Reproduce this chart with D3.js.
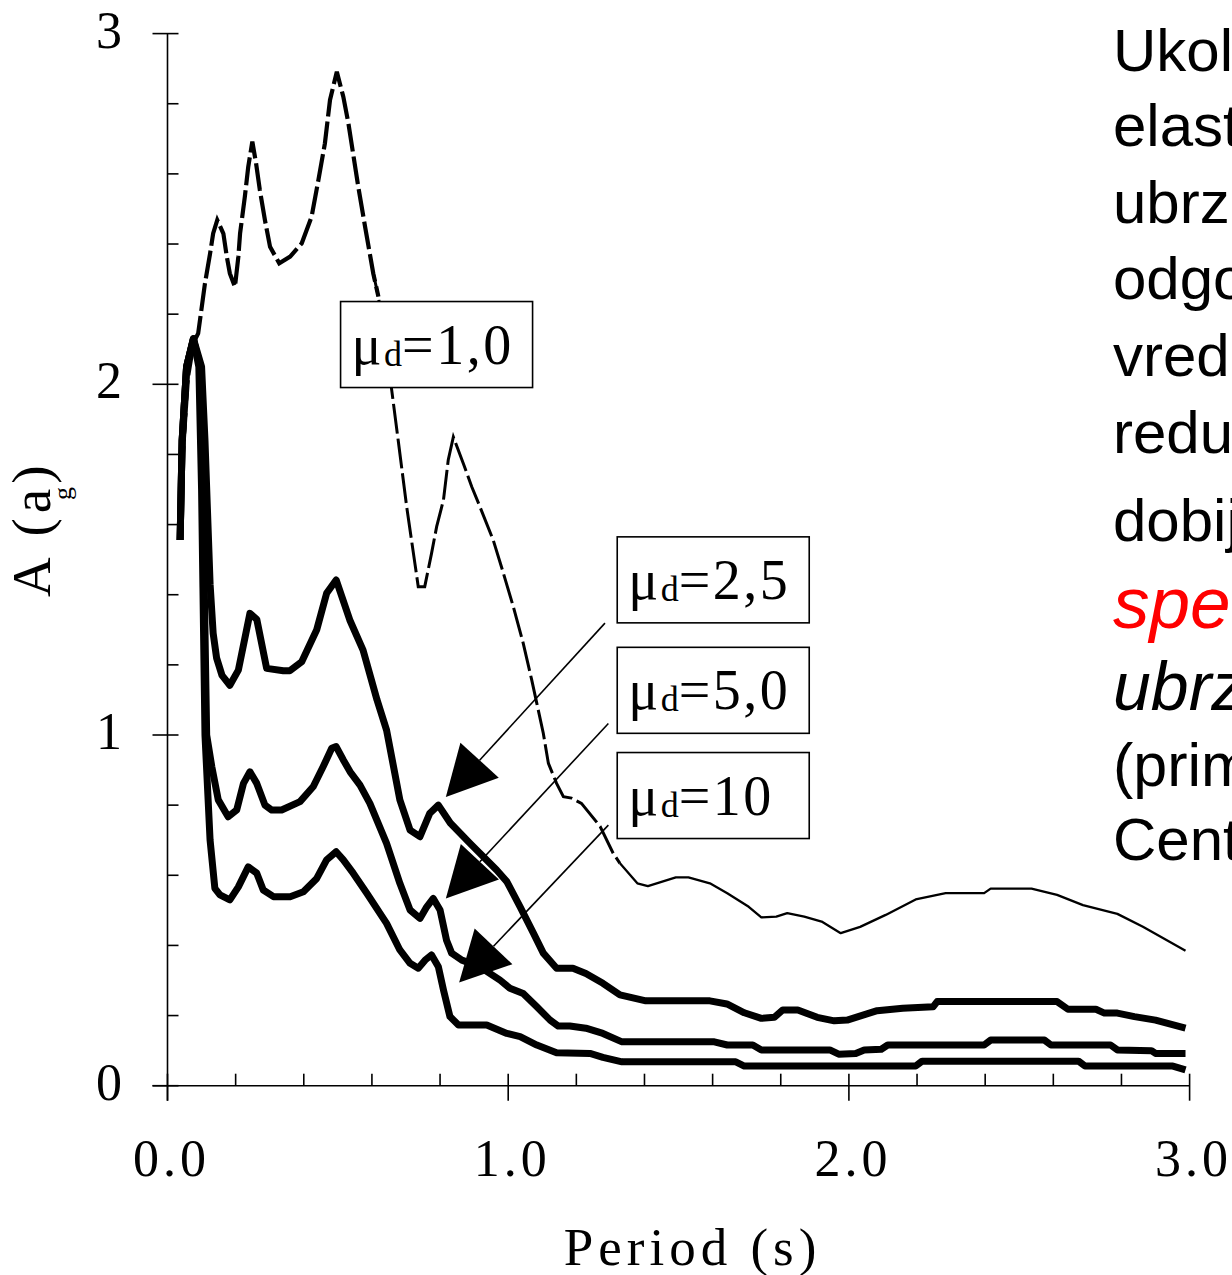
<!DOCTYPE html>
<html><head><meta charset="utf-8">
<script src="https://cdn.jsdelivr.net/npm/d3@7"></script>
<style>
body{margin:0;background:#fff}
svg{display:block;overflow:hidden}
</style>
</head><body>
<script>
// Acceleration response spectra (El Centro), A in units of g, for ductility 1.0, 2.5, 5.0, 10
const periodMu1 = [0.037,0.045,0.06,0.077,0.09,0.11,0.125,0.134,0.146,0.164,0.174,0.183,0.198,0.208,0.213,0.227,0.237,0.249,0.26,0.271,0.286,0.301,0.328,0.36,0.394,0.423,0.443,0.462,0.477,0.497,0.516,0.531,0.56,0.58,0.604,0.619,0.658,0.677,0.702,0.726,0.736,0.755,0.775,0.79,0.81,0.824,0.839,0.868,0.893,0.917,0.956,0.986,1.015,1.044,1.069,1.084,1.103,1.118,1.142,1.162,1.186,1.215,1.27,1.308,1.328,1.379,1.41,1.492,1.529,1.592,1.643,1.706,1.743,1.787,1.819,1.869,1.92,1.976,2.033,2.108,2.196,2.284,2.397,2.416,2.536,2.611,2.687,2.788,2.863,2.988];
const accMu1 = [1.556,1.8,2.02,2.12,2.145,2.288,2.373,2.43,2.468,2.43,2.364,2.316,2.278,2.364,2.43,2.535,2.62,2.692,2.63,2.554,2.468,2.392,2.345,2.364,2.402,2.478,2.583,2.687,2.811,2.891,2.82,2.744,2.563,2.449,2.316,2.25,1.984,1.841,1.651,1.49,1.423,1.423,1.518,1.594,1.67,1.784,1.85,1.775,1.708,1.651,1.556,1.461,1.366,1.262,1.157,1.09,1.005,0.919,0.862,0.824,0.82,0.805,0.739,0.663,0.634,0.577,0.569,0.594,0.594,0.577,0.549,0.51,0.48,0.482,0.492,0.482,0.468,0.435,0.453,0.487,0.531,0.549,0.549,0.562,0.562,0.544,0.515,0.49,0.453,0.385];

const periodMu25 = [0.037,0.043,0.056,0.076,0.1,0.11,0.125,0.134,0.144,0.16,0.183,0.208,0.242,0.262,0.291,0.34,0.359,0.394,0.438,0.467,0.495,0.535,0.574,0.615,0.643,0.682,0.712,0.741,0.77,0.795,0.83,0.888,0.966,0.996,1.035,1.074,1.103,1.142,1.19,1.228,1.278,1.328,1.404,1.592,1.642,1.693,1.743,1.781,1.806,1.85,1.907,1.957,1.995,2.083,2.158,2.247,2.259,2.611,2.643,2.725,2.75,2.788,2.838,2.9,2.988];
const accMu25 = [1.556,1.84,2.05,2.13,2.05,1.84,1.43,1.29,1.22,1.17,1.142,1.185,1.347,1.33,1.19,1.183,1.183,1.209,1.3,1.404,1.442,1.328,1.242,1.1,1.014,0.815,0.729,0.71,0.777,0.8,0.749,0.691,0.615,0.582,0.51,0.435,0.378,0.335,0.335,0.32,0.292,0.259,0.242,0.242,0.233,0.208,0.192,0.195,0.216,0.216,0.195,0.185,0.187,0.214,0.221,0.225,0.24,0.24,0.218,0.218,0.207,0.207,0.197,0.187,0.164];

const periodMu5 = [0.037,0.043,0.056,0.076,0.095,0.103,0.108,0.115,0.13,0.149,0.178,0.203,0.223,0.242,0.262,0.286,0.306,0.335,0.389,0.428,0.457,0.482,0.495,0.516,0.536,0.565,0.594,0.643,0.682,0.712,0.741,0.761,0.78,0.8,0.819,0.834,0.864,0.917,0.976,1.005,1.044,1.084,1.123,1.147,1.181,1.228,1.278,1.334,1.605,1.643,1.718,1.743,1.944,1.97,2.02,2.045,2.095,2.114,2.397,2.416,2.574,2.593,2.768,2.788,2.888,2.9,2.988];
const accMu5 = [1.556,1.84,2.05,2.13,2.05,1.75,1.42,1.0,0.91,0.815,0.767,0.786,0.862,0.895,0.862,0.8,0.786,0.786,0.81,0.853,0.91,0.962,0.967,0.929,0.895,0.857,0.805,0.691,0.577,0.501,0.477,0.51,0.534,0.501,0.415,0.378,0.358,0.339,0.301,0.278,0.263,0.225,0.187,0.17,0.17,0.164,0.149,0.125,0.125,0.116,0.116,0.102,0.102,0.09,0.092,0.102,0.104,0.116,0.116,0.13,0.13,0.116,0.116,0.102,0.1,0.092,0.092];

const periodMu10 = [0.037,0.043,0.056,0.076,0.092,0.1,0.104,0.11,0.125,0.139,0.154,0.183,0.208,0.237,0.262,0.281,0.311,0.36,0.399,0.438,0.467,0.495,0.516,0.545,0.585,0.643,0.682,0.712,0.736,0.756,0.775,0.795,0.81,0.829,0.854,0.937,0.996,1.035,1.084,1.142,1.24,1.278,1.334,1.668,1.693,2.196,2.215,2.674,2.693,2.951,2.988];
const accMu10 = [1.556,1.84,2.05,2.13,2.05,1.7,1.42,1.0,0.7,0.563,0.544,0.53,0.567,0.624,0.606,0.558,0.539,0.539,0.553,0.591,0.644,0.667,0.644,0.606,0.549,0.463,0.387,0.349,0.335,0.358,0.373,0.339,0.273,0.197,0.173,0.173,0.149,0.14,0.116,0.094,0.092,0.081,0.068,0.068,0.056,0.056,0.07,0.07,0.056,0.056,0.045];

// axis ticks
const xMajorTicks = [0, 1, 2, 3];
const xTickLabels = ["0.0", "1.0", "2.0", "3.0"];
const yMajorTicks = [0, 1, 2, 3];
const yTickLabels = ["0", "1", "2", "3"];

// ductility labels, their box anchors (period, A) and leader arrows
const ductilityLabels = ["1,0", "2,5", "5,0", "10"];
const labelBoxPeriod = [0.508, 1.32, 1.32, 1.32];
const labelBoxTopA = [2.236, 1.565, 1.25, 0.95];
const arrowFromPeriod = [null, 1.284, 1.294, 1.294];
const arrowFromA = [null, 1.319, 1.033, 0.743];
const arrowToPeriod = [null, 0.817, 0.817, 0.856];
const arrowToA = [null, 0.823, 0.534, 0.294];

// side note
const noteLines = ["Ukoliko se", "elastični spektar", "ubrzanja podeli", "odgovarajućom",
  "vrednošću faktora", "redukcije R,", "dobija se", "spektar", "ubrzanja", "(primer El", "Centro)"];

const W = 1232, H = 1275;
const serif = "'Liberation Serif','Times New Roman',serif";
const sans = "'Liberation Sans',Arial,sans-serif";

const svg = d3.select("body").append("svg").attr("width", W).attr("height", H);

const x = d3.scaleLinear().domain([0, 3]).range([167.5, 1189.6]);
const y = d3.scaleLinear().domain([0, 3]).range([1085.7, 33.6]);

const line = d3.line().x(d => x(d[0])).y(d => y(d[1])).curve(d3.curveLinear);
const zipSeries = (p, a) => p.map((t, i) => [t, a[i]]);

// inelastic spectra: thick solid lines
[[periodMu25, accMu25], [periodMu5, accMu5], [periodMu10, accMu10]].forEach(([p, a]) => {
  svg.append("path").datum(zipSeries(p, a)).attr("d", line)
    .attr("fill", "none").attr("stroke", "#000").attr("stroke-width", 7)
    .attr("stroke-linejoin", "round");
});

// elastic spectrum: dashed, thinning to a plain line at long periods
const elastic = zipSeries(periodMu1, accMu1);
const splitPeriod = 1.33;
svg.append("path").datum(elastic.filter(d => d[0] <= 0.64)).attr("d", line)
  .attr("fill", "none").attr("stroke", "#000").attr("stroke-width", 4.2)
  .attr("stroke-dasharray", "28 5");
svg.append("path").datum(elastic.filter(d => d[0] >= 0.6 && d[0] <= splitPeriod + 0.01)).attr("d", line)
  .attr("fill", "none").attr("stroke", "#000").attr("stroke-width", 3)
  .attr("stroke-dasharray", "30 5").attr("stroke-dashoffset", 8);
svg.append("path").datum(elastic.filter(d => d[0] >= splitPeriod - 0.01)).attr("d", line)
  .attr("fill", "none").attr("stroke", "#000").attr("stroke-width", 2.3)
  .attr("stroke-linejoin", "round");

// axes
const ax = svg.append("g").attr("stroke", "#000").attr("stroke-width", 1.6);
ax.append("line").attr("x1", x(0)).attr("x2", x(0)).attr("y1", y(3)).attr("y2", y(0) + 15);
ax.append("line").attr("x1", x(0) - 15).attr("x2", x(3)).attr("y1", y(0)).attr("y2", y(0));
const minor = d3.range(0, 3.0001, 0.2).filter(v => Math.abs(v - Math.round(v)) > 1e-6);
yMajorTicks.forEach(v => ax.append("line").attr("x1", x(0) - 15).attr("x2", x(0) + 11).attr("y1", y(v)).attr("y2", y(v)));
minor.forEach(v => ax.append("line").attr("x1", x(0)).attr("x2", x(0) + 11).attr("y1", y(v)).attr("y2", y(v)));
xMajorTicks.forEach(v => ax.append("line").attr("x1", x(v)).attr("x2", x(v)).attr("y1", y(0) - 12).attr("y2", y(0) + 15));
minor.forEach(v => ax.append("line").attr("x1", x(v)).attr("x2", x(v)).attr("y1", y(0) - 12).attr("y2", y(0)));

svg.append("g").selectAll("text").data(yMajorTicks).join("text")
  .attr("x", 122).attr("y", d => y(d) + 14).attr("text-anchor", "end")
  .attr("font-family", serif).attr("font-size", 52).text((d, i) => yTickLabels[i]);
svg.append("g").selectAll("text").data(xMajorTicks).join("text")
  .attr("x", d => x(d) + 4).attr("y", 1176).attr("text-anchor", "middle")
  .attr("font-family", serif).attr("font-size", 52).attr("letter-spacing", 4)
  .text((d, i) => xTickLabels[i]);

svg.append("text").attr("x", x(1.5) + 14).attr("y", 1265).attr("text-anchor", "middle")
  .attr("font-family", serif).attr("font-size", 53).attr("letter-spacing", 5)
  .text("Period (s)");

const yl = svg.append("g").attr("transform", "translate(50,597) rotate(-90)")
  .attr("font-family", serif);
yl.append("text").attr("x", 0).attr("y", 0).attr("font-size", 55).attr("letter-spacing", 5).text("A (a)");
yl.append("text").attr("x", 97).attr("y", 21).attr("font-size", 26).text("g");

// ductility labels with leader arrows
const boxW = 192, boxH = 86;
ductilityLabels.forEach((lab, i) => {
  if (arrowFromPeriod[i] !== null) {
    const x0 = x(arrowFromPeriod[i]), y0 = y(arrowFromA[i]);
    const x1 = x(arrowToPeriod[i]), y1 = y(arrowToA[i]);
    const len = Math.hypot(x0 - x1, y0 - y1);
    const ux = (x0 - x1) / len, uy = (y0 - y1) / len;
    const headL = 50, headW = 26;
    const bx = x1 + ux * headL, by = y1 + uy * headL;
    svg.append("line").attr("x1", x0).attr("y1", y0).attr("x2", bx).attr("y2", by)
      .attr("stroke", "#000").attr("stroke-width", 1.6);
    svg.append("path")
      .attr("d", `M${x1},${y1}L${bx - uy * headW},${by + ux * headW}L${bx + uy * headW},${by - ux * headW}Z`)
      .attr("fill", "#000");
  }
  const bx0 = x(labelBoxPeriod[i]), by0 = y(labelBoxTopA[i]);
  svg.append("rect").attr("x", bx0).attr("y", by0).attr("width", boxW).attr("height", boxH)
    .attr("fill", "#fff").attr("stroke", "#000").attr("stroke-width", 1.6);
  const t = svg.append("text").attr("x", bx0 + 11).attr("y", by0 + 62)
    .attr("font-family", serif).attr("font-size", 56).attr("letter-spacing", 2.5);
  t.append("tspan").text("μ");
  t.append("tspan").attr("font-size", 36).attr("dy", 2).attr("letter-spacing", 0).text("d");
  t.append("tspan").attr("dy", -2).text("=" + lab);
});

// side note text
const noteBaselines = [71, 146, 223, 299, 376, 453, 541, 628, 710, 786, 860];
const noteSizes = [60, 60, 60, 60, 60, 60, 60, 73, 68, 61, 60];
svg.append("g").selectAll("text").data(noteLines).join("text")
  .attr("x", 1113).attr("y", (d, i) => noteBaselines[i])
  .attr("font-family", sans).attr("font-size", (d, i) => noteSizes[i])
  .attr("font-style", (d, i) => (i === 7 || i === 8) ? "italic" : "normal")
  .attr("fill", (d, i) => i === 7 ? "#ff0000" : "#000")
  .text(d => d);
</script>
</body></html>
